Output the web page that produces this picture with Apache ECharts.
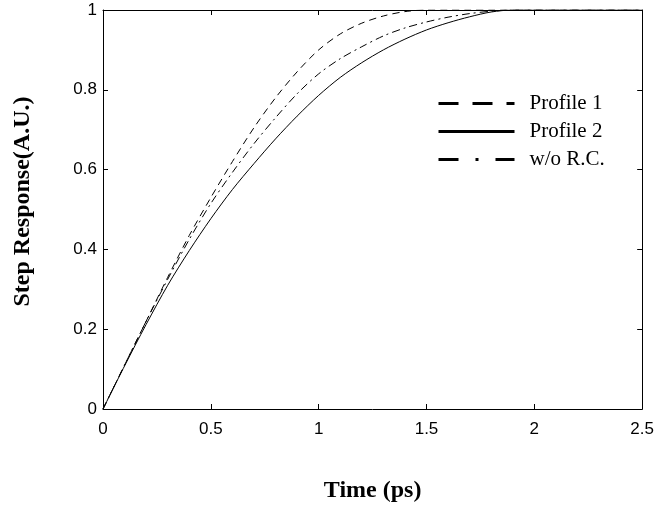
<!DOCTYPE html>
<html>
<head>
<meta charset="utf-8">
<script src="https://cdn.jsdelivr.net/npm/echarts@6/dist/echarts.min.js"></script>
<style>html,body{margin:0;padding:0;background:#fff}#c{width:657px;height:508px}</style>
</head>
<body>
<div id="c"></div>
<script>
var time = [0,0.1,0.2,0.3,0.4,0.5,0.6,0.7,0.8,0.9,1.0,1.1,1.2,1.3,1.4,1.5,1.6,1.7,1.8,1.9,2.0,2.5];
var profile1 = [0,0.11,0.22,0.33,0.435,0.53,0.62,0.705,0.78,0.845,0.9,0.94,0.967,0.985,0.996,1,1,1,1,1,1,1];
var profile2 = [0,0.108,0.212,0.31,0.397,0.477,0.55,0.615,0.677,0.734,0.786,0.831,0.868,0.9,0.927,0.95,0.968,0.983,0.995,1,1,1];
var woRC = [0,0.11,0.22,0.325,0.425,0.515,0.593,0.665,0.73,0.79,0.84,0.878,0.908,0.935,0.955,0.97,0.982,0.991,0.997,1,1,1];
var seriesNames = ['Profile 1','Profile 2','w/o R.C.'];
var xTickLabels = ['0','0.5','1','1.5','2','2.5'];
var yTickLabels = ['0','0.2','0.4','0.6','0.8','1'];

function pairs(ys){ return time.map(function(t,i){ return [t, ys[i]]; }); }

var chart = echarts.init(document.getElementById('c'), null, {renderer:'canvas'});
var tickLabel = {color:'#000', fontFamily:'Liberation Sans, Arial, sans-serif', fontSize:17};
var axisCommon = function(extra){
  var o = {
    type:'value',
    axisLine:{show:true, onZero:false, lineStyle:{color:'#000', width:1}},
    axisTick:{show:true, inside:true, length:5, lineStyle:{color:'#000'}},
    splitLine:{show:false}
  };
  for (var k in extra) o[k] = extra[k];
  return o;
};
var titleStyle = {color:'#000', fontFamily:'Liberation Serif, Times New Roman, serif', fontWeight:'bold', fontSize:24};
var yTitleStyle = Object.assign({}, titleStyle, {padding:[0,0,0,16]});
var hiddenSym = {color:'rgba(0,0,0,0)', borderWidth:0, borderColor:'rgba(0,0,0,0)', opacity:0};

chart.setOption({
  animation:false,
  backgroundColor:'#fff',
  grid:{left:103, right:13, top:10, bottom:98, show:false},
  legend:{
    orient:'vertical', left:432, top:88,
    itemWidth:76, itemHeight:14, itemGap:7,
    itemStyle:hiddenSym,
    formatter:'{t|{name}}',
    textStyle:{color:'#000', fontFamily:'Liberation Serif, Times New Roman, serif', fontSize:21,
      rich:{t:{color:'#000', fontFamily:'Liberation Serif, Times New Roman, serif', fontSize:21, padding:[0,0,0,10]}}},
    data:[
      {name:seriesNames[0], itemStyle:hiddenSym, lineStyle:{color:'#000', width:3, type:[20,14]}},
      {name:seriesNames[1], itemStyle:hiddenSym, lineStyle:{color:'#000', width:3}},
      {name:seriesNames[2], itemStyle:hiddenSym, lineStyle:{color:'#000', width:3, type:[20,17,3,17]}}
    ]
  },
  xAxis:[
    axisCommon({min:0, max:2.5, interval:0.5, position:'bottom',
      name:'Time (ps)', nameLocation:'middle', nameGap:70, nameTextStyle:titleStyle,
      axisLabel:Object.assign({margin:12, formatter:function(v,i){return xTickLabels[i];}}, tickLabel)}),
    axisCommon({min:0, max:2.5, interval:0.5, position:'top', axisLabel:{show:false}})
  ],
  yAxis:[
    axisCommon({min:0, max:1, interval:0.2, position:'left',
      name:'Step Response(A.U.)', nameLocation:'middle', nameGap:68, nameRotate:90, nameTextStyle:yTitleStyle,
      axisLabel:Object.assign({margin:6, formatter:function(v,i){return yTickLabels[i];}}, tickLabel)}),
    axisCommon({min:0, max:1, interval:0.2, position:'right', axisLabel:{show:false}})
  ],
  series:[
    {name:seriesNames[0], type:'line', data:pairs(profile1), smooth:0.3, symbol:'none',
      lineStyle:{color:'#000', width:1, type:[7,5]}, itemStyle:{color:'#000'}},
    {name:seriesNames[1], type:'line', data:pairs(profile2), smooth:0.3, symbol:'none',
      lineStyle:{color:'#000', width:1}, itemStyle:{color:'#000'}},
    {name:seriesNames[2], type:'line', data:pairs(woRC), smooth:0.3, symbol:'none',
      lineStyle:{color:'#000', width:1, type:[8,4,2,4]}, itemStyle:{color:'#000'}}
  ]
});
</script>
</body>
</html>
